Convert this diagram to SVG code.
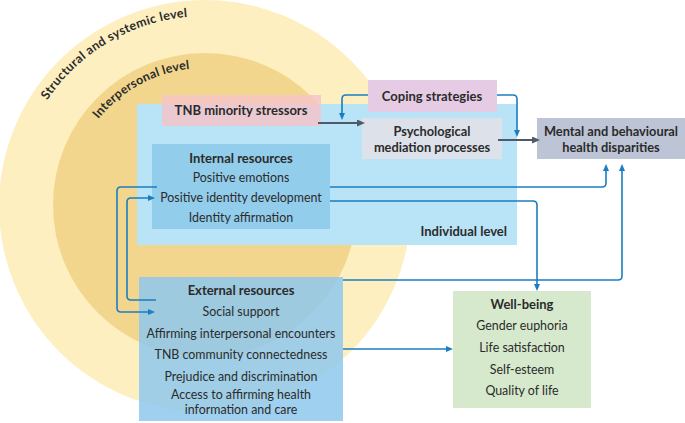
<svg xmlns="http://www.w3.org/2000/svg" width="685" height="423" viewBox="0 0 685 423">
<style>
text{font-family:Lato,"Open Sans","Liberation Sans",sans-serif;font-size:12.4px;fill:#2b2b2b;text-anchor:middle}
.b{font-weight:bold;font-size:13px}
.b2{font-weight:bold;font-size:12.8px}
.lvlo{font-weight:bold;font-size:12.5px;letter-spacing:0.35px;text-anchor:start}
.lvli{font-weight:bold;font-size:12.4px;letter-spacing:0.25px;text-anchor:start}
.bl{fill:none;stroke:#1b7dc1;stroke-width:1.6}
.gr{fill:none;stroke:#4d5b69;stroke-width:1.8}
</style>
<defs>
<marker id="ab" viewBox="0 0 7 6" refX="4" refY="3" markerWidth="7" markerHeight="6" markerUnits="userSpaceOnUse" orient="auto"><path d="M0,0 L7,3 L0,6 z" fill="#1b7dc1"/></marker>
<marker id="ag" viewBox="0 0 8 7" refX="5" refY="3.5" markerWidth="8" markerHeight="7" markerUnits="userSpaceOnUse" orient="auto"><path d="M0,0 L8,3.5 L0,7 z" fill="#4d5b69"/></marker>
<path id="arcO" d="M26.5,141 A190,190 0 0 1 300,41.5"/>
<path id="arcI" d="M76.3,158.1 A137,137 0 0 1 273.5,86.4"/>
</defs>
<g id="levels">
<circle cx="205" cy="206" r="206" fill="#feefc1"/>
<circle cx="205" cy="205" r="152" fill="#f2d68d"/>
<text class="lvlo"><textPath href="#arcO" startOffset="46">Structural and systemic level</textPath></text>
<text class="lvli"><textPath href="#arcI" startOffset="45">Interpersonal level</textPath></text>
</g>
<g id="individual">
<rect x="137" y="104" width="380" height="141" fill="#b9e3f7"/>
<text class="b" x="507" y="236" style="text-anchor:end">Individual level</text>
</g>
<g id="stressors">
<rect x="162" y="95" width="159" height="31" fill="#f5c3c8" fill-opacity="0.82"/>
<text class="b" x="241" y="115">TNB minority stressors</text>
</g>
<g id="coping">
<rect x="368" y="80" width="129" height="32" fill="#e5cce4"/>
<text class="b" x="432" y="100.5">Coping strategies</text>
</g>
<g id="psych">
<rect x="362" y="118" width="140" height="41" fill="#dde1e9"/>
<text class="b2" x="432" y="136.2">Psychological</text>
<text class="b2" x="432" y="151.7">mediation processes</text>
</g>
<g id="mental">
<rect x="537" y="118" width="148" height="41" fill="#bdc4d6"/>
<text class="b2" x="611" y="136.2">Mental and behavioural</text>
<text class="b2" x="611" y="151.7">health disparities</text>
</g>
<g id="internal">
<rect x="152" y="144" width="178" height="85" fill="#93cdec"/>
<text class="b" x="241" y="162.5">Internal resources</text>
<text x="241" y="182">Positive emotions</text>
<text x="241" y="202">Positive identity development</text>
<text x="241" y="222">Identity affirmation</text>
</g>
<g id="external">
<rect x="139" y="277" width="204" height="144" fill="#8ec8ec" fill-opacity="0.85"/>
<text class="b" x="241" y="294.5">External resources</text>
<text x="241" y="316">Social support</text>
<text x="241" y="337.5">Affirming interpersonal encounters</text>
<text x="241" y="359">TNB community connectedness</text>
<text x="241" y="380.5">Prejudice and discrimination</text>
<text x="241" y="399.2">Access to affirming health</text>
<text x="241" y="414.2">information and care</text>
</g>
<g id="wellbeing">
<rect x="453" y="291" width="138" height="117" fill="#d6e9cc"/>
<text class="b" x="522" y="308.5">Well-being</text>
<text x="522" y="330">Gender euphoria</text>
<text x="522" y="352">Life satisfaction</text>
<text x="522" y="373.5">Self-esteem</text>
<text x="522" y="395">Quality of life</text>
</g>
<g id="connectors">
<path class="gr" d="M318,123 H362" marker-end="url(#ag)"/>
<path class="gr" d="M498,140 H537" marker-end="url(#ag)"/>
<path class="bl" d="M368,95 H346 Q342,95 342,99 V117" marker-end="url(#ab)"/>
<path class="bl" d="M497,95 H513 Q517,95 517,99 V134" marker-end="url(#ab)"/>
<path class="bl" d="M330,187 H602 Q606,187 606,183 V167" marker-end="url(#ab)"/>
<path class="bl" d="M330,201 H533 Q537,201 537,205 V288" marker-end="url(#ab)"/>
<path class="bl" d="M343,280 H618 Q622,280 622,276 V167" marker-end="url(#ab)"/>
<path class="bl" d="M343,349 H450" marker-end="url(#ab)"/>
<path class="bl" d="M157,187 H121 Q117,187 117,191 V308 Q117,312 121,312 H152" marker-end="url(#ab)"/>
<path class="bl" d="M156,300 H131 Q127,300 127,296 V202 Q127,198 131,198 H152" marker-end="url(#ab)"/>
</g>
</svg>
